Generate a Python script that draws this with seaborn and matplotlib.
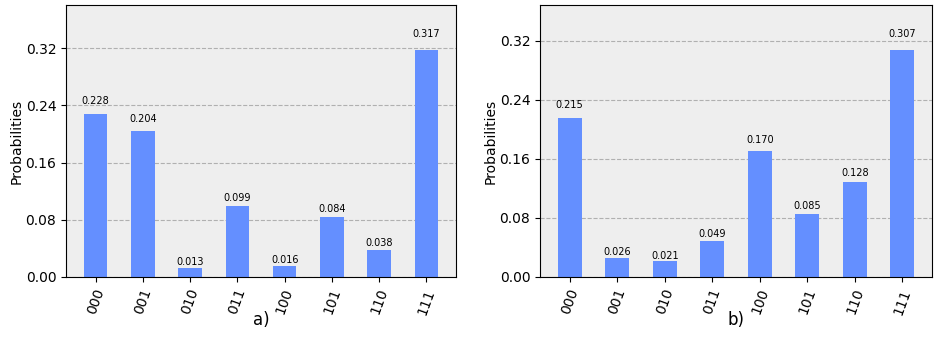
import matplotlib
matplotlib.use("Agg")
import matplotlib.pyplot as plt
import seaborn as sns
import pandas as pd
from matplotlib.ticker import MaxNLocator

# measured outcome probabilities for each panel
states = ['000', '001', '010', '011', '100', '101', '110', '111']
probs_a = [0.228, 0.204, 0.013, 0.099, 0.016, 0.084, 0.038, 0.317]
probs_b = [0.215, 0.026, 0.021, 0.049, 0.170, 0.085, 0.128, 0.307]
panel_labels = ['a)', 'b)']

fig = plt.figure(figsize=(9.45, 3.42), dpi=100)
ax_a = fig.add_axes([66 / 945, 65 / 342, 390 / 945, 272 / 342])
ax_b = fig.add_axes([540 / 945, 65 / 342, 392 / 945, 272 / 342])

for ax, probs, label in zip([ax_a, ax_b], [probs_a, probs_b], panel_labels):
    df = pd.DataFrame({'state': states, 'prob': probs})
    sns.barplot(data=df, x='state', y='prob', ax=ax, color='#648fff',
                width=0.5, saturation=1, zorder=2)
    ax.set_facecolor('#eeeeee')
    ax.set_xlim(-0.625, len(states) - 0.375)
    ax.set_ylim(0, max(probs) * 1.2)
    ax.yaxis.set_major_locator(MaxNLocator(5))
    ax.grid(axis='y', linestyle='--', color='#b0b0b0', linewidth=0.8, zorder=0)
    ax.set_axisbelow(True)

    # value labels on top of each bar
    for patch, p in zip(ax.patches, probs):
        ax.text(patch.get_x() + patch.get_width() / 2, 1.05 * p, '%.3f' % p,
                ha='center', va='bottom', fontsize=7)

    ax.tick_params(axis='x', labelrotation=70, labelsize=10)
    ax.tick_params(axis='y', labelsize=10)
    ax.set_ylabel('Probabilities', fontsize=10, labelpad=1)
    ax.set_xlabel(label, fontsize=12)
    ax.xaxis.set_label_coords(0.5, -0.125)
    for s in ax.spines.values():
        s.set_color('black')

fig.savefig('out.png', dpi=100)
